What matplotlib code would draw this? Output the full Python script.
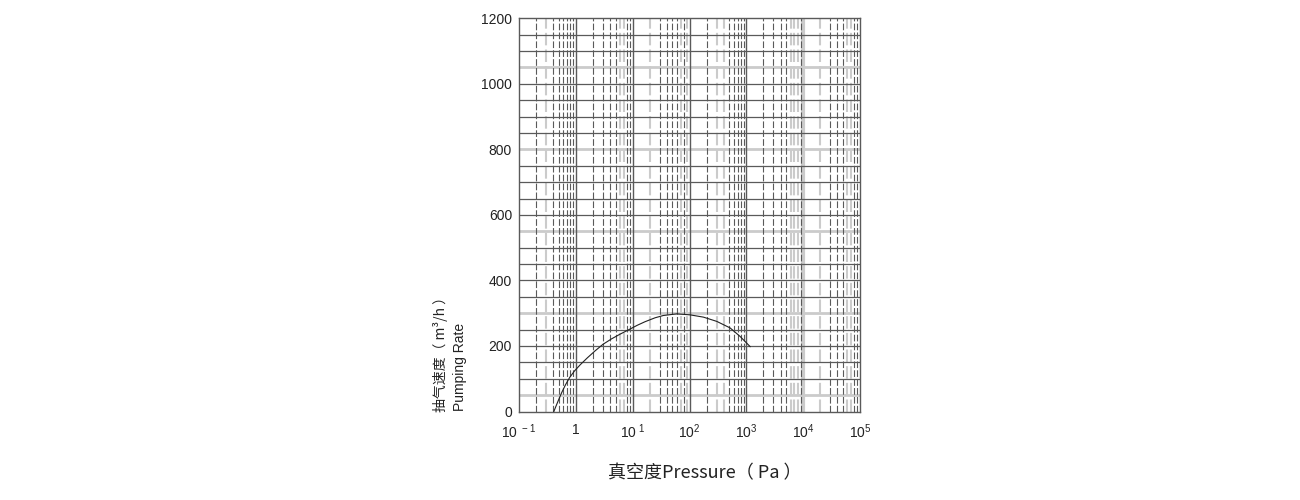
import numpy as np
import matplotlib
matplotlib.use("Agg")
import matplotlib.pyplot as plt

plt.rcParams['font.family'] = ['Liberation Sans', 'Noto Sans CJK SC', 'DejaVu Sans']
plt.rcParams['mathtext.fontset'] = 'custom'
plt.rcParams['mathtext.rm'] = 'Liberation Sans'

# curve
pressure = [0.41, 0.49, 0.565, 0.66, 0.78, 0.95, 1.2, 1.6, 2.18, 3.0, 4.28, 6.0, 8.4, 12, 16.5, 24.8,
            34.7, 59.7, 102, 176, 302, 519, 777, 1167]
rate = [0, 33, 58, 82, 104, 124, 143, 164, 185, 205, 222, 236, 249, 263, 274, 286,
        293, 298, 295, 288, 275, 255, 229, 198]

y_ticks = [0, 200, 400, 600, 800, 1000, 1200]
x_ticks = [0.1, 1, 10, 100, 1000, 10000, 100000]
x_labels = [r'$\mathregular{10^{\ -1}}$', '1', r'$\mathregular{10^{\ 1}}$', r'$\mathregular{10^{2}}$',
            r'$\mathregular{10^{3}}$', r'$\mathregular{10^{4}}$', r'$\mathregular{10^{5}}$']

h_lines = list(range(50, 1200, 50))
h_light = [50, 300, 550, 800, 1050]
decades = [1, 10, 100, 1000]
v_light = [0.3, 6, 7, 20, 70, 90, 300, 400, 6000, 7000, 8000, 20000, 60000, 70000]

DARK = '#5a5a5a'
LIGHT = '#cbcbcb'

fig = plt.figure(figsize=(13, 5), dpi=100)
ax = fig.add_axes([519 / 1300, 1 - 411.5 / 500, 341 / 1300, 393.2 / 500])
ax.set_xscale('log')
ax.set_xlim(0.1, 100000)
ax.set_ylim(0, 1200)

for v in h_lines:
    if v in h_light:
        ax.axhline(v, color=LIGHT, lw=2.0, zorder=1)
    else:
        ax.axhline(v, color=DARK, lw=0.9, zorder=2)

for d in [0.1, 1, 10, 100, 1000, 10000]:
    for m in range(2, 10):
        xv = d * m
        if any(abs(xv - l) / l < 1e-6 for l in v_light):
            ax.axvline(xv, color=LIGHT, lw=1.5, ls=(0, (6, 2)), zorder=1)
        else:
            ax.axvline(xv, color=DARK, lw=0.8, ls=(0, (6, 2)), zorder=2)
for d in decades:
    ax.axvline(d, color=DARK, lw=1.0, zorder=2)
ax.axvline(10000, color=LIGHT, lw=3.0, zorder=1)

ax.plot(pressure, rate, color='#222222', lw=0.8, zorder=3)

for s in ax.spines.values():
    s.set_color(DARK)
    s.set_linewidth(1.0)

ax.set_yticks(y_ticks)
ax.set_xticks(x_ticks)
ax.set_xticklabels(x_labels)
ax.xaxis.set_minor_locator(matplotlib.ticker.NullLocator())
ax.tick_params(axis='both', length=0, labelsize=10, colors='#222222')
ax.tick_params(axis='x', pad=8)
ax.tick_params(axis='y', pad=5)

fig.text(705 / 1300, 1 - 473 / 500, '真空度Pressure（ Pa ）', ha='center', va='center',
         fontsize=13, color='#222222', family=['Noto Sans CJK SC', 'DejaVu Sans'])
fig.text(440 / 1300, 1 - 412 / 500, '抽气速度（ m³/h ）', rotation=90, ha='center', va='bottom',
         fontsize=10, color='#222222', family=['Noto Sans CJK SC', 'DejaVu Sans'])
fig.text(460 / 1300, 1 - 411 / 500, 'Pumping Rate', rotation=90, ha='center', va='bottom',
         fontsize=10, color='#222222')

fig.savefig('out.png', dpi=100)
